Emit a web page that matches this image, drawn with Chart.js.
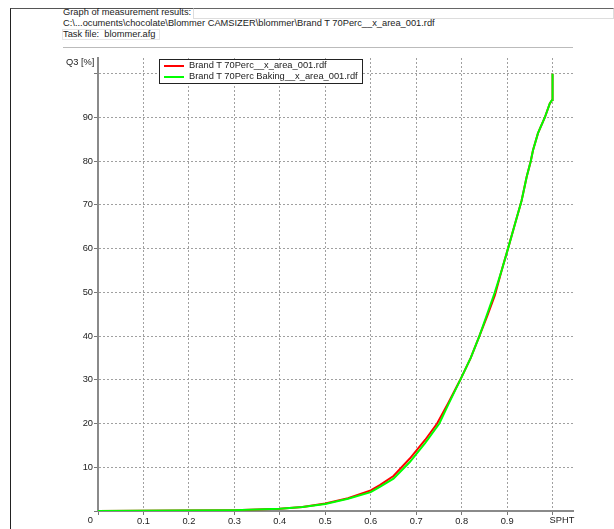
<!DOCTYPE html>
<html>
<head>
<meta charset="utf-8">
<script src="https://cdn.jsdelivr.net/npm/chart.js@4"></script>
<style>
  body { margin: 0; background: #fff; font-family: 'Liberation Sans', Arial, sans-serif; }
  #wrap { position: relative; width: 614px; height: 529px; overflow: hidden; }
  #frame { position: absolute; left: 10px; top: 8px; right: 0; bottom: -2px; border-left: 1px solid #222; border-top: 1px solid #555; }
  .hdr { position: absolute; left: 63px; font-size: 9.3px; color: #222; line-height: 11px; white-space: nowrap; }
  #sep { position: absolute; left: 63px; top: 47px; width: 510px; border-top: 1px solid #bbb; }
  #hbox { position: absolute; left: 193px; top: 8px; right: 0; height: 9px; border: 1px solid #ddd; border-top-color: #666; }
  #tbox { position: absolute; left: 62px; top: 29px; width: 96px; height: 9px; border: 1px solid #e6e6e6; }
  #q3 { position: absolute; left: 66px; top: 57px; font-size: 9.3px; color: #222; }
  #legend { position: absolute; left: 159px; top: 59px; width: 202px; height: 23px; border: 1px solid #222; background: #fff; font-size: 9.3px; color: #222; }
  #legend div { position: relative; height: 11px; line-height: 11px; padding-left: 29px; white-space: nowrap; }
  #legend span { position: absolute; left: 4px; top: 5px; width: 20px; height: 2px; }
  canvas { position: absolute; left: 0; top: 0; }
</style>
</head>
<body>
<div id="wrap">
  <div id="frame"></div>
  <div id="hbox"></div>
  <div id="tbox"></div>
  <div class="hdr" style="top:7px">Graph of measurement results:</div>
  <div class="hdr" style="top:18px">C:\...ocuments\chocolate\Blommer CAMSIZER\blommer\Brand T 70Perc__x_area_001.rdf</div>
  <div class="hdr" style="top:29px">Task file:&nbsp; blommer.afg</div>
  <div id="sep"></div>
  <canvas id="chart" width="614" height="529"></canvas>
  <div id="q3">Q3 [%]</div>
  <div id="legend"></div>
</div>
<script>
Chart.defaults.font.family = "'Liberation Sans', Arial, sans-serif";
Chart.defaults.font.size = 9.3;

// sphericity (SPHT) values and cumulative Q3 [%]
const sphtRed = [0, 0.18, 0.3, 0.4, 0.45, 0.5, 0.55, 0.6, 0.62, 0.65, 0.686, 0.72, 0.746, 0.77, 0.797, 0.82, 0.839, 0.856, 0.873, 0.888, 0.902, 0.917, 0.932, 0.943, 0.952, 0.957, 0.968, 0.983, 0.994, 0.999, 1.0, 1.0];
const q3Red = [0, 0.1, 0.2, 0.5, 0.9, 1.7, 2.9, 4.7, 5.9, 8.0, 12.0, 16.3, 20.0, 24.6, 30.0, 35.0, 40.0, 44.5, 49.3, 55.0, 60.0, 65.5, 71.0, 76.4, 80.0, 82.5, 86.4, 90.0, 93.2, 94.0, 94.5, 100];
const sphtGreen = [0, 0.18, 0.3, 0.4, 0.45, 0.5, 0.55, 0.6, 0.62, 0.65, 0.686, 0.72, 0.751, 0.77, 0.797, 0.82, 0.839, 0.856, 0.873, 0.888, 0.902, 0.917, 0.932, 0.943, 0.952, 0.957, 0.968, 0.983, 0.994, 0.999, 1.0, 1.0];
const q3Green = [0, 0.1, 0.2, 0.5, 0.9, 1.6, 2.8, 4.3, 5.5, 7.4, 11.2, 15.6, 20.0, 24.2, 30.0, 35.0, 40.0, 45.0, 50.0, 55.0, 60.0, 65.5, 71.0, 76.4, 80.0, 82.5, 86.4, 90.0, 93.2, 94.0, 94.5, 100];
const seriesLabels = ['Brand T 70Perc__x_area_001.rdf', 'Brand T 70Perc Baking__x_area_001.rdf'];
const seriesColors = ['#ff0000', '#00ff00'];

const xTickValues = [0, 0.1, 0.2, 0.3, 0.4, 0.5, 0.6, 0.7, 0.8, 0.9, 1.0];
const xTickLabels = ['', '0.1', '0.2', '0.3', '0.4', '0.5', '0.6', '0.7', '0.8', '0.9', ''];
const yTickValues = [0, 10, 20, 30, 40, 50, 60, 70, 80, 90, 100];
const yTickLabels = ['', '10', '20', '30', '40', '50', '60', '70', '80', '90', ''];
const xTitle = 'SPHT';

const toPoints = function toPoints(xs, ys) {
  return xs.map((x, i) => ({ x: x, y: ys[i] }));
}

const gridOpts = {
  color: '#a0a0a0',
  tickColor: '#777',
  tickLength: 4,
  tickWidth: 1
};

// origin "0" and the SPHT title sit off the normal tick positions
const axisExtras = {
  id: 'axisExtras',
  afterDraw: chart => {
    const ctx = chart.ctx;
    const xs = chart.scales['x'];
    const x0 = xs.getPixelForValue(0);
    const x1 = xs.getPixelForValue(1);
    const y = chart.scales['y'].getPixelForValue(0);
    ctx.save();
    ctx.fillStyle = '#222';
    ctx.font = "9.3px 'Liberation Sans', Arial, sans-serif";
    ctx.textBaseline = 'top';
    ctx.textAlign = 'right';
    ctx.fillText('0', x0 - 5, y + 5);
    ctx.textAlign = 'left';
    ctx.fillText(xTitle, x1 - 3, y + 5);
    ctx.restore();
  }
};

var chart = new Chart(document.getElementById('chart'), {
  type: 'scatter',
  plugins: [axisExtras],
  data: {
    datasets: [{
      label: seriesLabels[0],
      data: toPoints(sphtRed, q3Red),
      showLine: true,
      borderColor: seriesColors[0],
      borderWidth: 2,
      pointRadius: 0,
      order: 1
    }, {
      label: seriesLabels[1],
      data: toPoints(sphtGreen, q3Green),
      showLine: true,
      borderColor: seriesColors[1],
      borderWidth: 2,
      pointRadius: 0,
      order: 0
    }]
  },
  options: {
    responsive: false,
    animation: false,
    layout: { padding: { top: 58, right: 41, left: 0, bottom: 0 } },
    plugins: {
      legend: { display: false },
      tooltip: { enabled: false }
    },
    scales: {
      x: {
        type: 'linear',
        min: 0,
        max: 1.045,
        afterFit: function (scale) { scale.height = 18; },
        afterBuildTicks: function (scale) { scale.ticks = xTickValues.map(v => ({ value: v })); },
        grid: gridOpts,
        border: { color: '#8a8a8a', width: 2, dash: [2, 2] },
        ticks: {
          color: '#222',
          padding: 1,
          maxRotation: 0,
          callback: function (value, index) { return xTickLabels[index]; }
        }
      },
      y: {
        type: 'linear',
        min: 0,
        max: 103.6,
        afterFit: function (scale) { scale.width = 98; },
        afterBuildTicks: function (scale) { scale.ticks = yTickValues.map(v => ({ value: v })); },
        grid: gridOpts,
        border: { color: '#8a8a8a', width: 2, dash: [2, 2] },
        ticks: {
          color: '#222',
          padding: 1,
          callback: function (value, index) { return yTickLabels[index]; }
        }
      }
    }
  }
});

// legend box built from the dataset labels
var legend = document.getElementById('legend');
seriesLabels.forEach((label, i) => {
  var row = document.createElement('div');
  var swatch = document.createElement('span');
  swatch.style.background = seriesColors[i];
  row.appendChild(swatch);
  row.appendChild(document.createTextNode(label));
  legend.appendChild(row);
});
</script>
</body>
</html>
